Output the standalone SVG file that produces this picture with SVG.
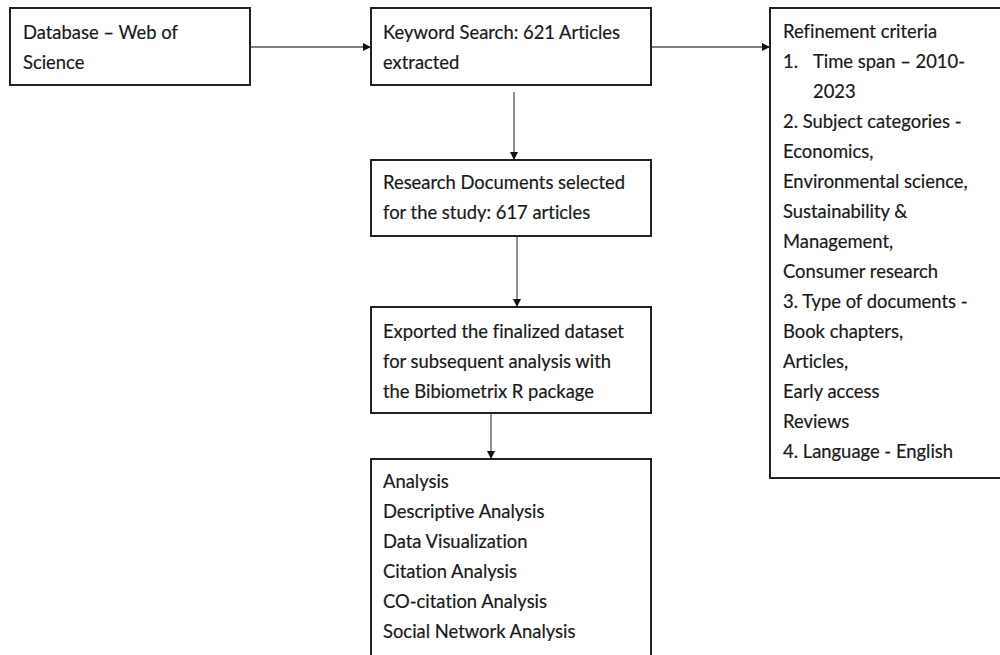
<svg xmlns="http://www.w3.org/2000/svg" width="1000" height="655" viewBox="0 0 1000 655">
<defs>
<style>
.box{fill:#fff;stroke:#222;stroke-width:2}
.t{font-family:Lato,"Open Sans","Liberation Sans",sans-serif;font-size:18.4px;fill:#1a1a1a;font-variant-ligatures:none;stroke:#1a1a1a;stroke-width:0.2}
.c{stroke:#555;stroke-width:1.3;fill:none}
</style>
<marker id="ah" viewBox="0 0 10 10" refX="10" refY="5" markerWidth="8" markerHeight="8" markerUnits="userSpaceOnUse" orient="auto">
<path d="M0,0 L10,5 L0,10 Z" fill="#111"/>
</marker>
</defs>
<rect width="1000" height="655" fill="#fff"/>
<g id="connectors">
<line class="c" x1="250" y1="47" x2="371" y2="47" marker-end="url(#ah)"/>
<line class="c" x1="651" y1="47" x2="770" y2="47" marker-end="url(#ah)"/>
<line class="c" x1="514" y1="92" x2="514" y2="160" marker-end="url(#ah)"/>
<line class="c" x1="517" y1="236" x2="517" y2="307" marker-end="url(#ah)"/>
<line class="c" x1="491" y1="397" x2="491" y2="459" marker-end="url(#ah)"/>
</g>
<g id="n1">
<rect class="box" x="10" y="8" width="240" height="77"/>
<text class="t" x="23" y="39">Database – Web of</text>
<text class="t" x="23" y="69">Science</text>
</g>
<g id="n2">
<rect class="box" x="371" y="8" width="280" height="77"/>
<text class="t" x="383" y="39">Keyword Search: 621 Articles</text>
<text class="t" x="383" y="69">extracted</text>
</g>
<g id="n3">
<rect class="box" x="770" y="8" width="240" height="470"/>
<text class="t" x="783" y="38">Refinement criteria</text>
<text class="t" x="783" y="68">1.</text>
<text class="t" x="813" y="68">Time span – 2010-</text>
<text class="t" x="813" y="98">2023</text>
<text class="t" x="783" y="128">2. Subject categories -</text>
<text class="t" x="783" y="158">Economics,</text>
<text class="t" x="783" y="188">Environmental science,</text>
<text class="t" x="783" y="218">Sustainability &amp;</text>
<text class="t" x="783" y="248">Management,</text>
<text class="t" x="783" y="278">Consumer research</text>
<text class="t" x="783" y="308">3. Type of documents -</text>
<text class="t" x="783" y="338">Book chapters,</text>
<text class="t" x="783" y="368">Articles,</text>
<text class="t" x="783" y="398">Early access</text>
<text class="t" x="783" y="428">Reviews</text>
<text class="t" x="783" y="458">4. Language - English</text>
</g>
<g id="n4">
<rect class="box" x="371" y="160" width="280" height="76"/>
<text class="t" x="383" y="189">Research Documents selected</text>
<text class="t" x="383" y="219">for the study: 617 articles</text>
</g>
<g id="n5">
<rect class="box" x="371" y="307" width="280" height="106"/>
<text class="t" x="383" y="338">Exported the finalized dataset</text>
<text class="t" x="383" y="368">for subsequent analysis with</text>
<text class="t" x="383" y="398">the Bibiometrix R package</text>
</g>
<g id="n6">
<rect class="box" x="371" y="459" width="280" height="250"/>
<text class="t" x="383" y="488">Analysis</text>
<text class="t" x="383" y="518">Descriptive Analysis</text>
<text class="t" x="383" y="548">Data Visualization</text>
<text class="t" x="383" y="578">Citation Analysis</text>
<text class="t" x="383" y="608">CO-citation Analysis</text>
<text class="t" x="383" y="638">Social Network Analysis</text>
</g>
</svg>
